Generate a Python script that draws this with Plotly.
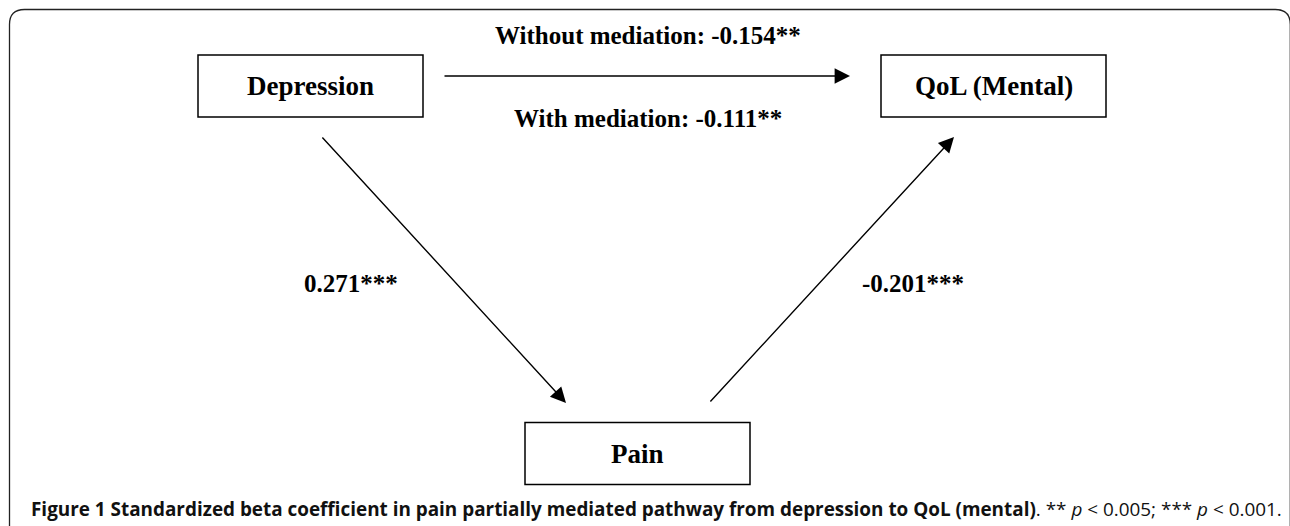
import plotly.graph_objects as go

# ---- data ----
node_names = ["Depression", "QoL (Mental)", "Pain"]
path_names = ["Without mediation", "With mediation", "", ""]
path_coefs = [-0.154, -0.111, 0.271, -0.201]
path_stars = ["**", "**", "***", "***"]
caption_title = "Figure 1 Standardized beta coefficient in pain partially mediated pathway from depression to QoL (mental)"
caption_note = ". ** <i>p</i> &lt; 0.005; *** <i>p</i> &lt; 0.001."

# ---- layout constants (pixel space) ----
W, H = 1290, 526
box_w, box_h = 225, 62
node_centers = [(310.5, 86), (993.5, 86), (637.5, 453.5)]
arrows = [((443, 76), (850, 76)), ((321, 136), (566, 403)), ((709, 403), (954, 137))]
label_pos = [(648, 35), (648, 118), (351, 283), (913, 283)]

serif = "Liberation Serif, Times New Roman, serif"

shapes = []
annotations = []

# outer rounded frame (bottom cut off, right side at the image edge)
r = 15
xr = 1290.3
shapes.append(dict(
    type="path", xref="x", yref="y",
    path=f"M 9.5,{H} L 9.5,{9.5 + r} Q 9.5,9.5 {9.5 + r},9.5 L {xr - r},9.5 Q {xr},9.5 {xr},{9.5 + r} L {xr},{H}",
    line=dict(color="#222", width=1.3),
))

for name, (cx, cy) in zip(node_names, node_centers):
    shapes.append(dict(type="rect", xref="x", yref="y",
                       x0=cx - box_w / 2, x1=cx + box_w / 2,
                       y0=cy - box_h / 2, y1=cy + box_h / 2,
                       line=dict(color="black", width=1.5)))
    annotations.append(dict(x=cx, y=cy, xref="x", yref="y", text=f"<b>{name}</b>",
                            showarrow=False, font=dict(family=serif, size=27, color="black"),
                            xanchor="center", yanchor="middle"))

for (tail, tip) in arrows:
    annotations.append(dict(x=tip[0], y=tip[1], ax=tail[0], ay=tail[1],
                            xref="x", yref="y", axref="x", ayref="y",
                            text="", showarrow=True, arrowhead=2, arrowsize=2.2,
                            arrowwidth=1.4, arrowcolor="black", standoff=0))

for name, coef, stars, (lx, ly) in zip(path_names, path_coefs, path_stars, label_pos):
    txt = f"{coef:.3f}{stars}"
    if name:
        txt = f"{name}: {txt}"
    annotations.append(dict(x=lx, y=ly, xref="x", yref="y", text=f"<b>{txt}</b>",
                            showarrow=False, font=dict(family=serif, size=25, color="black"),
                            xanchor="center", yanchor="middle"))

annotations.append(dict(x=29, y=509, xref="x", yref="y",
                        text=f"<b>{caption_title}</b>{caption_note}",
                        showarrow=False, font=dict(family="Open Sans, sans-serif", size=18.9, color="#111"),
                        xanchor="left", yanchor="middle"))

fig = go.Figure()
fig.update_layout(
    width=W, height=H,
    margin=dict(l=0, r=0, t=0, b=0),
    paper_bgcolor="white", plot_bgcolor="white",
    xaxis=dict(range=[0, W], visible=False, fixedrange=True),
    yaxis=dict(range=[H, 0], visible=False, fixedrange=True),
    shapes=shapes, annotations=annotations, showlegend=False,
)
fig.write_html("out.html", config=dict(displayModeBar=False),
               post_script="document.body.style.margin='0';document.body.style.overflow='hidden';")
